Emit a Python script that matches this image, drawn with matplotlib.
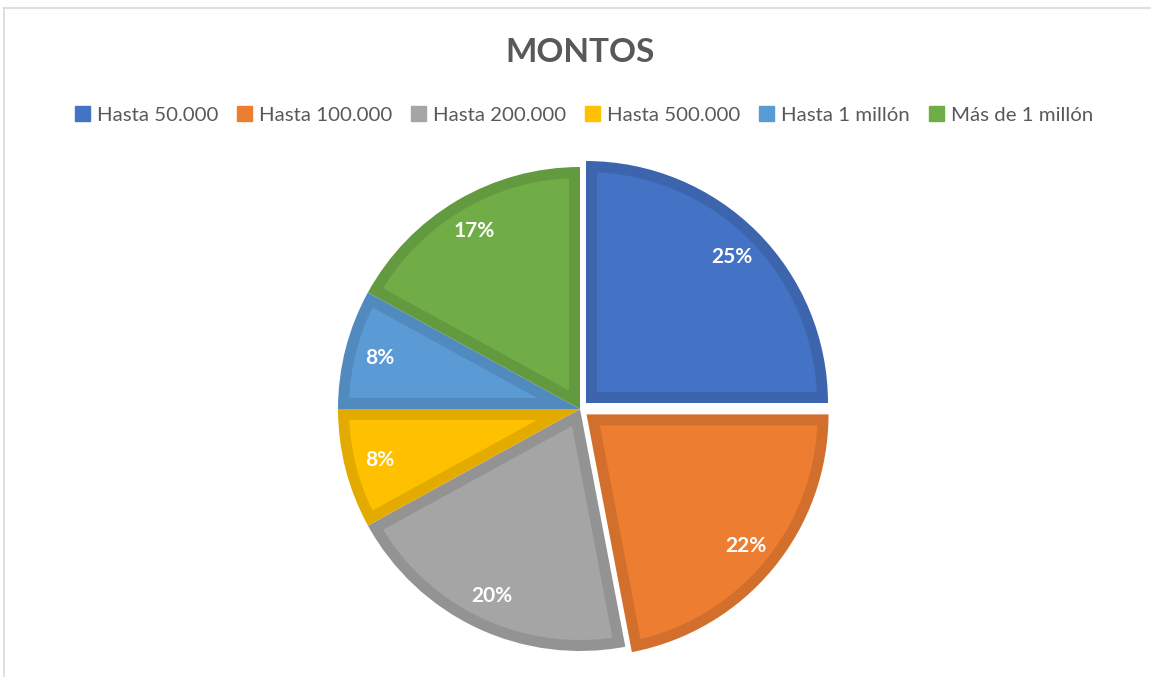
import numpy as np
import matplotlib.pyplot as plt
import matplotlib.colors as mcolors
from matplotlib.patches import Patch, Polygon
from matplotlib.lines import Line2D

# data
categories = ["Hasta 50.000", "Hasta 100.000", "Hasta 200.000",
              "Hasta 500.000", "Hasta 1 millón", "Más de 1 millón"]
shares = [25, 22, 20, 8, 8, 17]
colors = ["#4472C4", "#ED7D31", "#A5A5A5", "#FFC000", "#5B9BD5", "#70AD47"]
explode = [0.035, 0.035, 0, 0, 0, 0]

W, H = 1151, 677
fig = plt.figure(figsize=(W / 100, H / 100), dpi=100)
plt.rcParams['font.family'] = ['Lato', 'DejaVu Sans']


def darker(c, f=0.89):
    r, g, b = mcolors.to_rgb(c)
    return (r * f, g * f, b * f)


def inset_wedge(center, r, t1, t2, d, n=120):
    """Polygon of a pie wedge shrunk inwards by d (data units)."""
    O = np.asarray(center, float)
    a1, a2 = np.radians(t1), np.radians(t2)
    bis = (a1 + a2) / 2
    P = O + d / np.sin((a2 - a1) / 2) * np.array([np.cos(bis), np.sin(bis)])
    ri = r - d
    q = P - O

    def hit(a):
        e = np.array([np.cos(a), np.sin(a)])
        b = q @ e
        t = -b + np.sqrt(b * b - (q @ q - ri * ri))
        return P + t * e

    h1, h2 = hit(a1), hit(a2)
    b1 = np.arctan2(*(h1 - O)[::-1])
    b2 = np.arctan2(*(h2 - O)[::-1])
    while b2 < b1:
        b2 += 2 * np.pi
    ang = np.linspace(b1, b2, n)
    arc = O + ri * np.column_stack([np.cos(ang), np.sin(ang)])
    return np.vstack([P, arc])


# pie centre at (580, 409) px from top-left, radius 242 px
cx, cy, R = 580, H - 409, 242
half_w, half_h = 300, 260
ax = fig.add_axes([(cx - half_w) / W, (cy - half_h) / H, 2 * half_w / W, 2 * half_h / H])

wedges, texts, autotexts = ax.pie(
    shares, colors=[darker(c) for c in colors], explode=explode, startangle=90,
    counterclock=False, autopct=lambda p: f"{p:.0f}%", pctdistance=0.855,
    wedgeprops=dict(linewidth=0),
    textprops=dict(color="white", fontsize=15, fontweight="bold"))

border = 11 / R
for w, c in zip(wedges, colors):
    poly = inset_wedge(w.center, w.r, w.theta1, w.theta2, border)
    ax.add_patch(Polygon(poly, closed=True, facecolor=c, edgecolor="none", zorder=1.5))
for t in autotexts:
    t.set_zorder(3)

ax.set_xlim(-half_w / R, half_w / R)
ax.set_ylim(-half_h / R, half_h / R)
ax.set_aspect('auto')
ax.axis('off')

fig.text(580 / W, 1 - 53 / H, "MONTOS", ha="center", va="center",
         fontsize=24, fontweight="bold", color="#595959")

handles = [Patch(facecolor=c, edgecolor=c) for c in colors]
fig.legend(handles, categories, loc="center", bbox_to_anchor=(584 / W, 1 - 115 / H),
           ncol=6, frameon=False, fontsize=14.7, labelcolor="#595959",
           handlelength=0.75, handleheight=0.75, handletextpad=0.35,
           columnspacing=0.9)

# chart border (left and top visible)
fig.add_artist(Line2D([3.5 / W, 3.5 / W], [0, 1 - 8 / H], color="#D9D9D9", lw=1.2))
fig.add_artist(Line2D([3.5 / W, 1], [1 - 8 / H, 1 - 8 / H], color="#D9D9D9", lw=1.2))

fig.savefig("out.png", dpi=100, facecolor="white")
